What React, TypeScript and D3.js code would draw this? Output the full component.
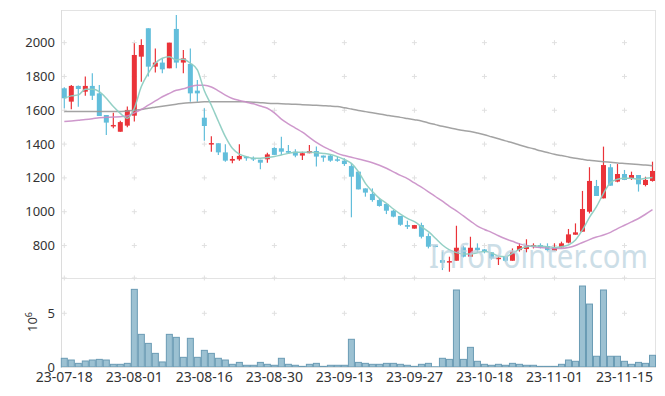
import React from 'react';
import * as d3 from 'd3';

const tickIdx = [0, 10, 20, 30, 40, 50, 60, 70, 80];
const tickLabels = ['23-07-18', '23-08-01', '23-08-16', '23-08-30', '23-09-13', '23-09-27', '23-10-18', '23-11-01', '23-11-15'];
const priceTicks = [800, 1000, 1200, 1400, 1600, 1800, 2000];
const volTicks = [0, 5];

const opens = [1730, 1651, 1744, 1710, 1744, 1700, 1572, 1507, 1473, 1509,
  1568, 1917, 2085, 1858, 1882, 1848, 2081, 1882, 1874, 1716,
  1556, 1398, 1405, 1351, 1302, 1310, 1326, 1318, 1308, 1310,
  1377, 1375, 1359, 1355, 1332, 1346, 1359, 1332, 1332, 1310,
  1302, 1270, 1237, 1138, 1105, 1069, 1046, 1006, 975, 921,
  900, 921, 856, 800, 714, 700, 710, 789, 734, 787,
  777, 760, 720, 734, 710, 773, 779, 797, 803, 797,
  770, 789, 817, 864, 882, 1000, 1152, 1079, 1263, 1178,
  1223, 1198, 1217, 1158, 1182];
const highs = [1736, 1750, 1746, 1799, 1819, 1750, 1572, 1586, 1538, 1622,
  1996, 2020, 2085, 1966, 1907, 2000, 2164, 1957, 1966, 1779,
  1612, 1446, 1405, 1399, 1330, 1399, 1330, 1326, 1308, 1349,
  1381, 1444, 1395, 1369, 1355, 1395, 1385, 1332, 1336, 1326,
  1316, 1286, 1237, 1138, 1138, 1079, 1050, 1010, 975, 947,
  922, 935, 872, 802, 764, 734, 917, 797, 852, 813,
  780, 760, 738, 740, 783, 813, 837, 813, 813, 813,
  813, 823, 898, 931, 1123, 1263, 1188, 1385, 1282, 1282,
  1247, 1237, 1217, 1207, 1296];
const lows = [1612, 1606, 1621, 1686, 1661, 1566, 1454, 1493, 1473, 1500,
  1533, 1769, 1799, 1823, 1819, 1848, 1848, 1819, 1651, 1651,
  1420, 1355, 1336, 1296, 1286, 1302, 1302, 1300, 1251, 1290,
  1336, 1336, 1345, 1322, 1306, 1346, 1267, 1296, 1296, 1296,
  1271, 967, 1132, 1089, 1059, 1030, 986, 967, 917, 898,
  900, 842, 783, 790, 655, 645, 710, 730, 734, 760,
  754, 717, 685, 704, 710, 764, 760, 783, 783, 768,
  768, 789, 813, 864, 882, 990, 1093, 1079, 1154, 1174,
  1188, 1188, 1119, 1150, 1178];
const closes = [1671, 1744, 1726, 1744, 1686, 1566, 1527, 1513, 1530, 1602,
  1927, 1986, 1858, 1882, 1842, 2000, 1882, 1907, 1700, 1700,
  1507, 1406, 1351, 1302, 1312, 1330, 1316, 1310, 1290, 1339,
  1336, 1355, 1349, 1332, 1346, 1359, 1326, 1320, 1302, 1302,
  1282, 1207, 1132, 1113, 1069, 1034, 1006, 971, 923, 911,
  921, 852, 793, 795, 698, 708, 787, 734, 787, 773,
  764, 724, 728, 710, 764, 797, 803, 803, 789, 773,
  789, 813, 866, 878, 1016, 1182, 1093, 1276, 1154, 1223,
  1188, 1217, 1162, 1188, 1241];
// volume in millions of shares
const volumes = [0.81, 0.65, 0.34, 0.56, 0.65, 0.71, 0.65, 0.25, 0.25, 0.34,
  7.23, 3.04, 2.20, 1.27, 0.47, 3.04, 2.76, 0.90, 2.67, 0.90,
  1.55, 1.27, 0.81, 0.65, 0.25, 0.43, 0.16, 0.16, 0.43, 0.25,
  0.16, 0.81, 0.25, 0.16, 0.06, 0.25, 0.34, 0.06, 0.16, 0.16,
  0.16, 2.58, 0.43, 0.34, 0.25, 0.25, 0.34, 0.34, 0.25, 0.16,
  0.06, 0.25, 0.34, 0.02, 0.81, 0.71, 7.17, 0.71, 1.83, 0.53,
  0.25, 0.16, 0.25, 0.16, 0.34, 0.25, 0.16, 0.16, 0.06, 0.06,
  0.06, 0.25, 0.65, 0.53, 7.54, 5.86, 1.0, 7.17, 1.0, 1.0,
  0.53, 0.25, 0.43, 0.34, 1.09];
const ma5 = [1671, 1685, 1691, 1724, 1724, 1710, 1671, 1622, 1582, 1553,
  1612, 1740, 1819, 1878, 1908, 1917, 1898, 1902, 1878, 1839,
  1715, 1630, 1535, 1444, 1375, 1341, 1326, 1316, 1316, 1320,
  1326, 1336, 1345, 1351, 1351, 1353, 1349, 1345, 1339, 1326,
  1309, 1286, 1237, 1168, 1119, 1079, 1050, 1016, 986, 961,
  941, 912, 882, 843, 803, 774, 758, 750, 750, 758,
  764, 756, 738, 734, 754, 777, 793, 797, 797, 793,
  789, 793, 803, 833, 892, 967, 1030, 1109, 1172, 1192,
  1198, 1198, 1192, 1198, 1203];
const ma20 = [1533, 1537, 1541, 1545, 1550, 1556, 1558, 1560, 1562, 1566,
  1585, 1605, 1630, 1655, 1680, 1700, 1718, 1727, 1740, 1748,
  1748, 1738, 1715, 1690, 1670, 1658, 1648, 1638, 1625, 1612,
  1585, 1548, 1520, 1495, 1470, 1440, 1410, 1385, 1365, 1345,
  1332, 1322, 1312, 1302, 1290, 1275, 1257, 1236, 1215, 1196,
  1170, 1145, 1118, 1090, 1062, 1032, 1005, 975, 945, 915,
  895, 878, 858, 840, 825, 810, 800, 793, 788, 785,
  783, 783, 788, 800, 818, 835, 850, 862, 878, 900,
  920, 940, 960, 985, 1012];
const ma120 = [1592, 1592, 1592, 1592, 1592, 1592, 1592, 1592, 1593, 1595,
  1600, 1605, 1612, 1618, 1624, 1630, 1636, 1642, 1645, 1647,
  1650, 1651, 1651, 1651, 1651, 1651, 1650, 1648, 1645, 1642,
  1640, 1639, 1637, 1635, 1633, 1631, 1629, 1627, 1625, 1622,
  1615, 1607, 1599, 1592, 1585, 1578, 1571, 1564, 1558, 1551,
  1544, 1537, 1525, 1515, 1505, 1496, 1488, 1480, 1474, 1465,
  1455, 1443, 1431, 1419, 1408, 1395, 1383, 1372, 1360, 1350,
  1340, 1332, 1324, 1316, 1310, 1304, 1300, 1296, 1292, 1288,
  1285, 1282, 1279, 1276, 1272];

const W = 665;
const H = 396;
const FONT = "'Noto Sans', 'DejaVu Sans', sans-serif";
const UP = '#ea3339';
const DOWN = '#62bedb';

export default function App() {
  const L = 62, R = 656, T = 10, MB = 278, VT = 278, VB = 367;
  const x = d3.scaleLinear().domain([-0.33, 84.5]).range([L, R]);
  const y = d3.scaleLinear().domain([608, 2193]).range([MB, T]);
  const yv = d3.scaleLinear().domain([0, 8.38]).range([VB, VT - 1]);
  const mkLine = (arr: number[]) =>
    d3.line<number>().x((_, i) => x(i)).y((d) => y(d)).curve(d3.curveMonotoneX)(arr) || '';
  const step = x(1) - x(0);
  const bodyW = 5;

  const crosses: { cx: number; cy: number }[] = [];
  tickIdx.forEach((ti) => {
    priceTicks.forEach((p) => crosses.push({ cx: x(ti), cy: y(p) }));
    crosses.push({ cx: x(ti), cy: MB });
    crosses.push({ cx: x(ti), cy: yv(5) });
  });

  return (
    <svg width={W} height={H} style={{ position: 'absolute', left: 0, top: 0, background: '#fff' }}
      fontFamily={FONT}>
      <rect x={0} y={0} width={W} height={H} fill="#fff" />
      {/* frame */}
      <line x1={L} x2={R} y1={T + 0.5} y2={T + 0.5} stroke="#e3e3e3" />
      <line x1={R - 0.5} x2={R - 0.5} y1={T} y2={VB} stroke="#e3e3e3" />
      <line x1={L - 0.5} x2={L - 0.5} y1={T} y2={VB} stroke="#dcdcdc" />
      <line x1={L} x2={R} y1={MB + 0.5} y2={MB + 0.5} stroke="#e3e3e3" />
      {/* grid crosses */}
      {crosses.map((c, k) => (
        <g key={k} stroke="#e0e0e0" strokeWidth={1}>
          <line x1={c.cx - 2.5} x2={c.cx + 2.5} y1={c.cy} y2={c.cy} />
          <line x1={c.cx} x2={c.cx} y1={c.cy - 2.5} y2={c.cy + 2.5} />
        </g>
      ))}
      {/* volume bars */}
      {volumes.map((v, i) => (
        <rect key={'v' + i} x={x(i) - step / 2 + 0.5} y={yv(v)} width={step - 1}
          height={Math.max(0, VB - yv(v))} fill="#9cc1d2" stroke="#6a9bb4" strokeWidth={1} />
      ))}
      <line x1={L} x2={R} y1={VB + 0.5} y2={VB + 0.5} stroke="#e3e3e3" />
      {/* candles */}
      {opens.map((o, i) => {
        const c = closes[i];
        const up = c >= o;
        const col = up ? UP : DOWN;
        const top = y(Math.max(o, c));
        const bot = y(Math.min(o, c));
        return (
          <g key={'c' + i}>
            <line x1={x(i)} x2={x(i)} y1={y(highs[i])} y2={y(lows[i])} stroke={col} strokeWidth={1.2} />
            <rect x={x(i) - bodyW / 2} y={top} width={bodyW} height={Math.max(1.5, bot - top)} fill={col} />
          </g>
        );
      })}
      {/* moving averages */}
      <path d={mkLine(ma120)} fill="none" stroke="#999" strokeWidth={1.5} opacity={0.9} />
      <path d={mkLine(ma20)} fill="none" stroke="#c98dc6" strokeWidth={1.5} opacity={0.9} />
      <path d={mkLine(ma5)} fill="none" stroke="#8ecdc2" strokeWidth={1.5} opacity={0.95} />
      {/* watermark */}
      <text x={429} y={268} fontSize={32} fill="#bcd4e0" opacity={0.75} textLength={219}
        lengthAdjust="spacingAndGlyphs">InfoPointer.com</text>
      {/* y axis labels */}
      {priceTicks.map((p) => (
        <text key={'p' + p} x={55} y={y(p)} dy="0.35em" textAnchor="end" fontSize={13} fill="#333">{p}</text>
      ))}
      {volTicks.map((v) => (
        <text key={'vt' + v} x={55} y={yv(v)} dy="0.35em" textAnchor="end" fontSize={13} fill="#333">{v}</text>
      ))}
      <text transform="translate(37,322) rotate(-90)" textAnchor="middle" fontSize={13} fill="#333">
        10<tspan dy={-5} fontSize={9}>6</tspan>
      </text>
      {/* x axis labels */}
      {tickIdx.map((ti, k) => (
        <text key={'x' + ti} x={x(ti)} y={382} textAnchor="middle" fontSize={14} fill="#333">{tickLabels[k]}</text>
      ))}
    </svg>
  );
}
